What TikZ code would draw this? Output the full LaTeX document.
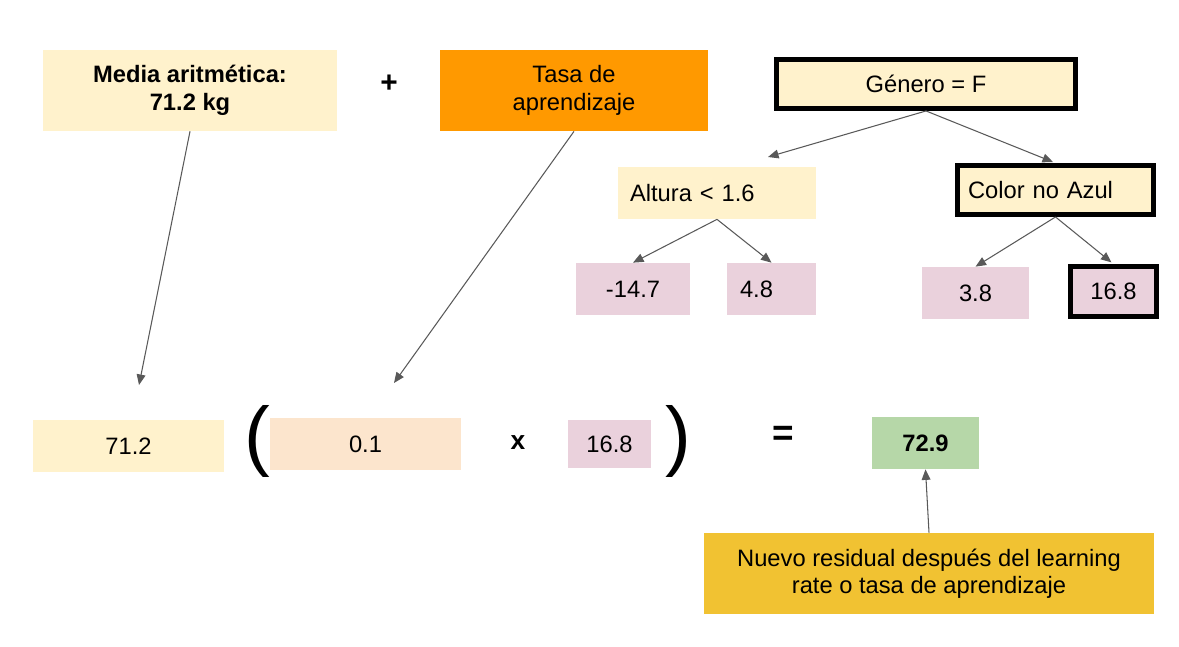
\documentclass[tikz,border=0pt]{standalone}
\usepackage{fontspec}
\setmainfont{Liberation Sans}
\usepackage{xcolor}
\usetikzlibrary{positioning,arrows.meta}
\definecolor{cream}{HTML}{FFF2CC}
\definecolor{orangebox}{HTML}{FF9900}
\definecolor{pinkbox}{HTML}{EAD1DC}
\definecolor{peachbox}{HTML}{FCE5CD}
\definecolor{greenbox}{HTML}{B6D7A8}
\definecolor{goldbox}{HTML}{F1C232}
\definecolor{arrowgray}{HTML}{595959}
\newcommand{\boxfont}{\fontsize{13.5}{15.6}\selectfont}
\pgfdeclarelayer{nodelayer}
\pgfdeclarelayer{edgelayer}
\pgfsetlayers{main,nodelayer,edgelayer}
\tikzstyle{flat box}=[fill=cream, draw=none, inner sep=0pt, align=center, font=\boxfont]
\tikzstyle{bold box}=[flat box, draw=black, line width=2.8pt]
\tikzstyle{sign}=[inner sep=0pt, font=\fontsize{17}{17}\selectfont\bfseries]
\tikzstyle{paren}=[inner sep=0pt, font=\fontsize{44}{44}\selectfont]
\tikzstyle{gray_edge}=[-{Triangle[length=6pt,width=5pt]}, draw=arrowgray, line width=0.6pt]

\begin{document}
\begin{tikzpicture}[x=0.02cm, y=-0.02cm]
        \useasboundingbox (0,0) rectangle (1179,646);
        \begin{pgfonlayer}{nodelayer}
            % top row
            \node[style=flat box, minimum width=5.88cm, minimum height=1.62cm, font=\boxfont\bfseries] (media) at (190,90.5) {Media aritmética:\\71.2 kg};
            \node[style=sign] (plus) at (389,84) {+};
            \node[style=flat box, fill=orangebox, minimum width=5.36cm, minimum height=1.62cm] (tasa) at (574,90.5) {Tasa de\\aprendizaje};
            % tree
            \node[style=bold box, minimum width=5.98cm, minimum height=0.98cm] (gen) at (926,84) {Género = F};
            \node[style=flat box, minimum width=3.96cm, minimum height=1.04cm, text width=3.48cm, align=left] (alt) at (717,193) {Altura < 1.6};
            \node[style=bold box, minimum width=3.92cm, minimum height=0.98cm, text width=3.5cm, align=left] (col) at (1055.5,190) {Color no Azul};
            \node[style=flat box, fill=pinkbox, minimum width=2.28cm, minimum height=1.04cm] (m147) at (633,289) {-14.7};
            \node[style=flat box, fill=pinkbox, minimum width=1.78cm, minimum height=1.04cm, text width=1.26cm, align=left] (v48) at (771.5,289) {4.8};
            \node[style=flat box, fill=pinkbox, minimum width=2.14cm, minimum height=1.04cm] (v38) at (975.5,293) {3.8};
            \node[style=bold box, fill=pinkbox, minimum width=1.72cm, minimum height=1.0cm] (v168) at (1113.5,291.5) {16.8};
            % equation row
            \node[style=flat box, minimum width=3.82cm, minimum height=1.04cm] (r712) at (128.5,446) {71.2};
            \node[style=paren] (lpar) at (257,441) {(};
            \node[style=flat box, fill=peachbox, minimum width=3.82cm, minimum height=1.04cm] (r01) at (365.5,444) {0.1};
            \node[style=sign, font=\fontsize{15}{15}\selectfont\bfseries] (times) at (518,443) {x};
            \node[style=flat box, fill=pinkbox, minimum width=1.66cm, minimum height=0.96cm] (r168) at (609.5,444) {16.8};
            \node[style=paren] (rpar) at (678,441) {)};
            \node[style=sign, font=\fontsize{21}{21}\selectfont\bfseries] (eq) at (783,436) {=};
            \node[style=flat box, fill=greenbox, minimum width=2.14cm, minimum height=1.04cm, font=\boxfont\bfseries] (res) at (925.5,443) {72.9};
            \node[style=flat box, fill=goldbox, minimum width=9.0cm, minimum height=1.62cm] (nuevo) at (929,573.5) {Nuevo residual después del learning\\rate o tasa de aprendizaje};
            % free arrow ends
            \coordinate (t712) at (139,385);
            \coordinate (t01) at (394,383);
            \coordinate (taltin) at (768,157);
        \end{pgfonlayer}
        \begin{pgfonlayer}{edgelayer}
            \draw[style=gray_edge] (media.south) -- (t712);
            \draw[style=gray_edge] (tasa.south) -- (t01);
            \draw[style=gray_edge] (gen.south) -- (taltin);
            \draw[style=gray_edge, shorten >=1.5pt] (gen.south) -- (col.north);
            \draw[style=gray_edge] (alt.south) -- (m147.north);
            \draw[style=gray_edge] (alt.south) -- (v48.north);
            \draw[style=gray_edge] (col.south) -- (v38.north);
            \draw[style=gray_edge, shorten >=1.5pt] (col.south) -- (v168.north);
            \draw[style=gray_edge] (nuevo.north) -- (res.south);
        \end{pgfonlayer}
    \end{tikzpicture}
\end{document}
